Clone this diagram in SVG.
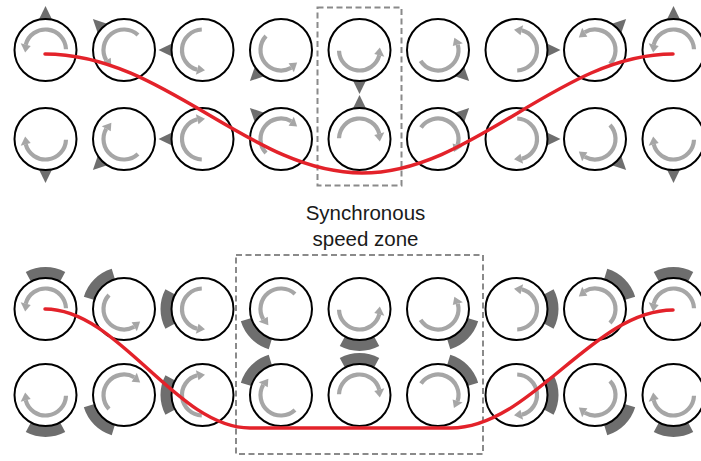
<svg xmlns="http://www.w3.org/2000/svg" width="701" height="461" viewBox="0 0 701 461">
<style>
.c{fill:#fff;stroke:#000;stroke-width:2}
.arc{fill:none;stroke:#a6a6a6;stroke-width:4.2}
.head{fill:#a6a6a6}
.mk{fill:#6e6e6e}
.zone{fill:none;stroke:#8a8a8a;stroke-width:2;stroke-dasharray:6 3.5}
.red{fill:none;stroke:#e3222a;stroke-width:3.5;stroke-linecap:round}
text{font-family:"Liberation Sans",Arial,sans-serif;font-size:20.5px;fill:#1a1a1a;text-anchor:middle}
</style>
<defs>
<g id="rot"><path class="arc" d="M0.715,20.49 A20.5,20.5 0 0 0 5.306,-19.80"/><polygon class="head" points="3.960,-14.779 6.652,-24.824 -2.498,-20.347"/></g>
<polygon id="tri" class="mk" points="29,-7.3 44,0 29,7.3"/>
<path id="pad" class="mk" d="M26.49,-14.08 L37.08,-19.72 A42,42 0 0 1 37.08,19.72 L26.49,14.08 A30,30 0 0 0 26.49,-14.08 Z"/>
</defs>

<g id="zones">
<rect class="zone" x="317.5" y="7.5" width="84" height="178"/>
<rect class="zone" x="236" y="255" width="247" height="199"/>
</g>

<g id="top-row1">
<g id="t1-1" transform="translate(45.5,50)"><use href="#tri" transform="rotate(-90)"/><circle class="c" r="31"/><use href="#rot" transform="rotate(-90)"/></g>
<g id="t1-2" transform="translate(124,50)"><use href="#tri" transform="rotate(-135)"/><circle class="c" r="31"/><use href="#rot" transform="rotate(-135)"/></g>
<g id="t1-3" transform="translate(202.5,50)"><use href="#tri" transform="rotate(-180)"/><circle class="c" r="31"/><use href="#rot" transform="rotate(-180)"/></g>
<g id="t1-4" transform="translate(281,50)"><use href="#tri" transform="rotate(-225)"/><circle class="c" r="31"/><use href="#rot" transform="rotate(-225)"/></g>
<g id="t1-5" transform="translate(359.5,50)"><use href="#tri" transform="rotate(-270)"/><circle class="c" r="31"/><use href="#rot" transform="rotate(-270)"/></g>
<g id="t1-6" transform="translate(438,50)"><use href="#tri" transform="rotate(-315)"/><circle class="c" r="31"/><use href="#rot" transform="rotate(-300)"/></g>
<g id="t1-7" transform="translate(516.5,50)"><use href="#tri"/><circle class="c" r="31"/><use href="#rot"/></g>
<g id="t1-8" transform="translate(595,50)"><use href="#tri" transform="rotate(-45)"/><circle class="c" r="31"/><use href="#rot" transform="rotate(-45)"/></g>
<g id="t1-9" transform="translate(673.5,50)"><use href="#tri" transform="rotate(-90)"/><circle class="c" r="31"/><use href="#rot" transform="rotate(-90)"/></g>
</g>

<g id="top-row2">
<g id="t2-1" transform="translate(45.5,139)"><use href="#tri" transform="rotate(-270)"/><circle class="c" r="31"/><use href="#rot" transform="rotate(-270) scale(1,-1)"/></g>
<g id="t2-2" transform="translate(124,139)"><use href="#tri" transform="rotate(-225)"/><circle class="c" r="31"/><use href="#rot" transform="rotate(-225) scale(1,-1)"/></g>
<g id="t2-3" transform="translate(202.5,139)"><use href="#tri" transform="rotate(-180)"/><circle class="c" r="31"/><use href="#rot" transform="rotate(-180) scale(1,-1)"/></g>
<g id="t2-4" transform="translate(281,139)"><use href="#tri" transform="rotate(-135)"/><circle class="c" r="31"/><use href="#rot" transform="rotate(-135) scale(1,-1)"/></g>
<g id="t2-5" transform="translate(359.5,139)"><use href="#tri" transform="rotate(-90)"/><circle class="c" r="31"/><use href="#rot" transform="rotate(-90) scale(1,-1)"/></g>
<g id="t2-6" transform="translate(438,139)"><use href="#tri" transform="rotate(-45)"/><circle class="c" r="31"/><use href="#rot" transform="rotate(-58) scale(1,-1)"/></g>
<g id="t2-7" transform="translate(516.5,139)"><use href="#tri"/><circle class="c" r="31"/><use href="#rot" transform="scale(1,-1)"/></g>
<g id="t2-8" transform="translate(595,139)"><use href="#tri" transform="rotate(-315)"/><circle class="c" r="31"/><use href="#rot" transform="rotate(-315) scale(1,-1)"/></g>
<g id="t2-9" transform="translate(673.5,139)"><use href="#tri" transform="rotate(-270)"/><circle class="c" r="31"/><use href="#rot" transform="rotate(-270) scale(1,-1)"/></g>
</g>

<g id="label">
<text x="365.5" y="220">Synchronous</text>
<text x="365.5" y="246">speed zone</text>
</g>

<g id="low-row1">
<g id="l1-1" transform="translate(45.5,309)"><use href="#pad" transform="rotate(-90)"/><circle class="c" r="31"/><use href="#rot" transform="rotate(-90)"/></g>
<g id="l1-2" transform="translate(124,309)"><use href="#pad" transform="rotate(-135)"/><circle class="c" r="31"/><use href="#rot" transform="rotate(-225)"/></g>
<g id="l1-3" transform="translate(202.5,309)"><use href="#pad" transform="rotate(-180)"/><circle class="c" r="31"/><use href="#rot" transform="rotate(-180)"/></g>
<g id="l1-4" transform="translate(281,309)"><use href="#pad" transform="rotate(-225)"/><circle class="c" r="31"/><use href="#rot" transform="rotate(-135)"/></g>
<g id="l1-5" transform="translate(359.5,309)"><use href="#pad" transform="rotate(-270)"/><circle class="c" r="31"/><use href="#rot" transform="rotate(-270)"/></g>
<g id="l1-6" transform="translate(438,309)"><use href="#pad" transform="rotate(-315)"/><circle class="c" r="31"/><use href="#rot" transform="rotate(-300)"/></g>
<g id="l1-7" transform="translate(516.5,309)"><use href="#pad"/><circle class="c" r="31"/><use href="#rot"/></g>
<g id="l1-8" transform="translate(595,309)"><use href="#pad" transform="rotate(-45)"/><circle class="c" r="31"/><use href="#rot" transform="rotate(-45)"/></g>
<g id="l1-9" transform="translate(673.5,309)"><use href="#pad" transform="rotate(-90)"/><circle class="c" r="31"/><use href="#rot" transform="rotate(-90)"/></g>
</g>

<g id="low-row2">
<g id="l2-1" transform="translate(45.5,395)"><use href="#pad" transform="rotate(-270)"/><circle class="c" r="31"/><use href="#rot" transform="rotate(-270) scale(1,-1)"/></g>
<g id="l2-2" transform="translate(124,395)"><use href="#pad" transform="rotate(-225)"/><circle class="c" r="31"/><use href="#rot" transform="rotate(-135) scale(1,-1)"/></g>
<g id="l2-3" transform="translate(202.5,395)"><use href="#pad" transform="rotate(-180)"/><circle class="c" r="31"/><use href="#rot" transform="rotate(-180) scale(1,-1)"/></g>
<g id="l2-4" transform="translate(281,395)"><use href="#pad" transform="rotate(-135)"/><circle class="c" r="31"/><use href="#rot" transform="rotate(-225) scale(1,-1)"/></g>
<g id="l2-5" transform="translate(359.5,395)"><use href="#pad" transform="rotate(-90)"/><circle class="c" r="31"/><use href="#rot" transform="rotate(-90) scale(1,-1)"/></g>
<g id="l2-6" transform="translate(438,395)"><use href="#pad" transform="rotate(-45)"/><circle class="c" r="31"/><use href="#rot" transform="rotate(-58) scale(1,-1)"/></g>
<g id="l2-7" transform="translate(516.5,395)"><use href="#pad"/><circle class="c" r="31"/><use href="#rot" transform="scale(1,-1)"/></g>
<g id="l2-8" transform="translate(595,395)"><use href="#pad" transform="rotate(-315)"/><circle class="c" r="31"/><use href="#rot" transform="rotate(-315) scale(1,-1)"/></g>
<g id="l2-9" transform="translate(673.5,395)"><use href="#pad" transform="rotate(-270)"/><circle class="c" r="31"/><use href="#rot" transform="rotate(-270) scale(1,-1)"/></g>
</g>

<g id="connectors">
<path class="red" d="M45,54 C165,54 250,173 362,173 C474,173 559,54 673,54"/>
<path class="red" d="M45,309 C119,309 176,428 250,428 L451,428 C531,428 593,310 673,310"/>
</g>
</svg>
